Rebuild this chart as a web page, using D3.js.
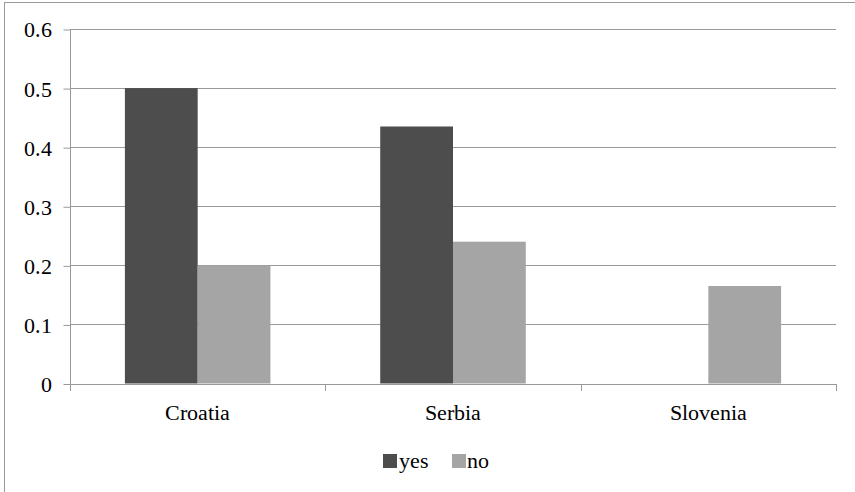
<!DOCTYPE html>
<html>
<head>
<meta charset="utf-8">
<script src="https://cdn.jsdelivr.net/npm/d3@7"></script>
<style>
  @font-face {
    font-family: "ChartSerif";
    src: local("Liberation Serif"), local("LiberationSerif-Regular"), local("LiberationSerif"),
         local("DejaVu Serif"), local("DejaVuSerif"), local("Times New Roman"), local("Tinos");
  }
  html, body { margin: 0; padding: 0; background: #fff; }
  svg { display: block; }
  svg text { font-family: "ChartSerif", "Liberation Serif", "DejaVu Serif", serif !important; font-size: 22px !important; }
</style>
</head>
<body>
<svg id="chart" width="855" height="492"></svg>
<script>
// Share of respondents answering yes / no, by country
const categories = ["Croatia", "Serbia", "Slovenia"];
const seriesNames = ["yes", "no"];
const yesValues = [0.5, 0.435, 0];
const noValues = [0.2, 0.24, 0.165];
const yTicks = [0, 0.1, 0.2, 0.3, 0.4, 0.5, 0.6];

const colors = { yes: "#4d4d4d", no: "#a5a5a5" };
const gridColor = "#999";

const svg = d3.select("#chart");
const W = 855, H = 492;
const plot = { left: 70, right: 836, top: 29, bottom: 383.5 };

// outer frame (clipped at the right and bottom edges)
svg.append("rect")
  .attr("x", 4.5).attr("y", 2.5)
  .attr("width", W + 10).attr("height", H + 10)
  .attr("fill", "none").attr("stroke", gridColor).attr("stroke-width", 1);

const x = d3.scaleBand().domain(categories)
  .range([plot.left, plot.right]).paddingInner(0.43).paddingOuter(0.215);
const xSeries = d3.scaleBand().domain(seriesNames).range([0, x.bandwidth()]);
const y = d3.scaleLinear().domain([0, 0.6]).range([plot.bottom, plot.top]);

// horizontal gridlines
svg.append("g").selectAll("line")
  .data(yTicks.filter(d => d > 0))
  .join("line")
  .attr("x1", plot.left).attr("x2", plot.right)
  .attr("y1", d => Math.round(y(d)) + 0.5).attr("y2", d => Math.round(y(d)) + 0.5)
  .attr("stroke", gridColor).attr("stroke-width", 1);

// y axis
const yAxis = d3.axisLeft(y).tickValues(yTicks)
  .tickFormat(d => d === 0 ? "0" : d3.format(".1f")(d))
  .tickSize(7).tickPadding(12);
const gy = svg.append("g")
  .attr("transform", `translate(${plot.left + 0.5},0.5)`)
  .call(yAxis);
gy.select(".domain").attr("stroke", gridColor).attr("d", `M0,${plot.top}V${plot.bottom + 7}`);
gy.selectAll(".tick line").attr("stroke", gridColor);
gy.selectAll(".tick text").attr("fill", "#000").attr("dy", "0.34em");

// bars
const data = categories.map((c, i) => ({ cat: c, yes: yesValues[i], no: noValues[i] }));
const groups = svg.append("g").selectAll("g")
  .data(data).join("g")
  .attr("transform", d => `translate(${x(d.cat)},0)`);
groups.selectAll("rect")
  .data(d => seriesNames.map(s => ({ s, v: d[s] })).filter(e => e.v > 0))
  .join("rect")
  .attr("x", e => xSeries(e.s))
  .attr("y", e => y(e.v))
  .attr("width", xSeries.bandwidth())
  .attr("height", e => y(0) - y(e.v))
  .attr("fill", e => colors[e.s]);

// x axis baseline with tick marks at category boundaries
const gx = svg.append("g");
gx.append("line")
  .attr("x1", plot.left).attr("x2", plot.right + 0.5)
  .attr("y1", Math.round(plot.bottom) + 0.5).attr("y2", Math.round(plot.bottom) + 0.5)
  .attr("stroke", gridColor);
const bounds = d3.range(categories.length + 1).map(i => plot.left + i * (plot.right - plot.left) / categories.length);
gx.selectAll("line.tk").data(bounds).join("line")
  .attr("class", "tk")
  .attr("x1", d => Math.round(d) + 0.5).attr("x2", d => Math.round(d) + 0.5)
  .attr("y1", Math.round(plot.bottom)).attr("y2", Math.round(plot.bottom) + 7)
  .attr("stroke", gridColor);
gx.selectAll("text").data(categories).join("text")
  .attr("x", d => x(d) + x.bandwidth() / 2)
  .attr("y", 420)
  .attr("text-anchor", "middle")
  .attr("fill", "#000")
  .text(d => d);

// legend
const legend = svg.append("g");
const legendItems = [
  { s: "yes", sx: 383, tx: 399 },
  { s: "no", sx: 452, tx: 467 }
];
legend.selectAll("rect").data(legendItems).join("rect")
  .attr("x", d => d.sx).attr("y", 454)
  .attr("width", 14).attr("height", 14)
  .attr("fill", d => colors[d.s]);
legend.selectAll("text").data(legendItems).join("text")
  .attr("x", d => d.tx).attr("y", 468)
  .attr("fill", "#000")
  .text(d => d.s);
</script>
</body>
</html>
